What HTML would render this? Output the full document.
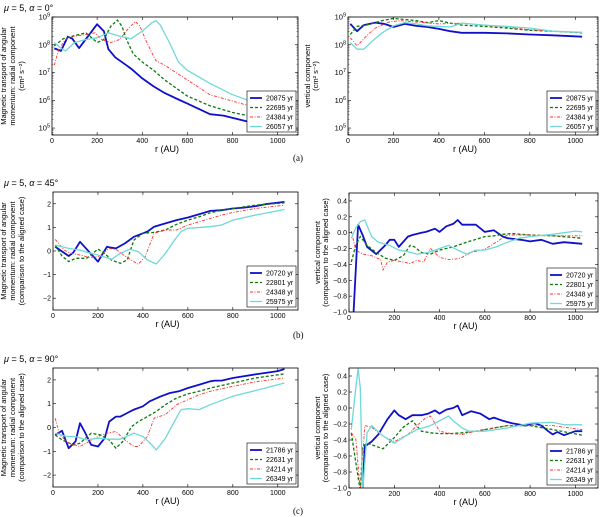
<!DOCTYPE html>
<html><head><meta charset="utf-8"><style>
html,body{margin:0;padding:0;background:#fff;}
svg{display:block;font-family:"Liberation Sans",sans-serif;}
</style></head><body>
<svg id="fig" width="600" height="517" viewBox="0 0 600 517" xmlns="http://www.w3.org/2000/svg">
<text x="4" y="11" font-size="9"><tspan font-style="italic">μ</tspan> = 5, <tspan font-style="italic">α</tspan> = 0°</text>
<text x="4" y="186" font-size="9"><tspan font-style="italic">μ</tspan> = 5, <tspan font-style="italic">α</tspan> = 45°</text>
<text x="4" y="362" font-size="9"><tspan font-style="italic">μ</tspan> = 5, <tspan font-style="italic">α</tspan> = 90°</text>
<text x="293" y="161" font-size="9" font-family="Liberation Serif">(a)</text>
<text x="293" y="338" font-size="9" font-family="Liberation Serif">(b)</text>
<text x="293" y="514" font-size="9" font-family="Liberation Serif">(c)</text>
</svg>
<script>
// ---- Data (r in AU, values; panel a in log10) ----
const aL_legend = ["20875 yr","22695 yr","24384 yr","26057 yr"];
const aL_blue_r = [10,40,70,90,120,160,200,230,250,280,350,400,450,500,560,600,700,760,850,1000,1030];
const aL_blue_v = [7.87,7.78,8.29,8.22,7.88,8.31,8.74,8.49,7.84,7.55,7.14,6.79,6.5,6.26,6.03,5.88,5.5,5.45,5.27,4.98,4.89];
const aL_green_r = [10,50,100,150,200,230,260,290,310,330,360,400,450,500,600,700,800,900,1030];
const aL_green_v = [7.96,8.22,8.33,8.43,8.08,8.19,8.66,8.89,8.66,8.19,7.67,7.38,7.08,6.73,6.15,5.8,5.56,5.39,5.09];
const aL_red_r = [10,30,60,100,150,190,220,260,300,340,370,390,420,460,500,600,700,800,900,1030];
const aL_red_v = [7.26,7.84,8.19,8.31,8.37,8.43,8.19,8.08,8.19,8.6,8.84,8.66,8.08,7.43,7.26,6.73,6.2,5.97,5.74,5.45];
const aL_cyan_r = [10,40,60,100,150,200,250,300,350,400,440,460,480,520,560,600,700,800,900,1030];
const aL_cyan_v = [8.08,7.87,7.78,8.08,8.19,8.25,8.43,8.31,8.22,8.49,8.78,8.87,8.71,8.08,7.38,7.08,6.61,6.2,5.91,5.56];

const aR_blue_r = [10,40,70,120,160,200,250,300,350,400,450,500,600,700,800,900,1030];
const aR_blue_v = [8.75,8.49,8.71,8.8,8.75,8.64,8.75,8.68,8.64,8.57,8.49,8.43,8.43,8.41,8.37,8.34,8.29];
const aR_green_r = [10,40,80,150,200,250,300,350,400,450,500,600,700,800,900,1030];
const aR_green_v = [8.37,8.66,8.71,8.87,8.95,8.91,8.87,8.8,8.87,8.78,8.71,8.66,8.6,8.52,8.49,8.43];
const aR_red_r = [10,40,80,120,180,230,300,400,500,600,700,800,900,1030];
const aR_red_v = [8.25,7.96,8.31,8.6,8.82,8.87,8.82,8.75,8.78,8.71,8.64,8.54,8.49,8.43];
const aR_cyan_r = [10,40,70,100,150,200,250,300,350,400,450,500,600,700,800,900,1030];
const aR_cyan_v = [8.08,7.84,7.84,8.08,8.43,8.68,8.8,8.75,8.68,8.66,8.64,8.78,8.71,8.66,8.6,8.49,8.45];

const bL_legend = ["20720 yr","22801 yr","24348 yr","25975 yr"];
const bL_blue_r = [10,70,90,120,160,200,240,260,280,320,360,400,420,450,500,550,600,650,700,750,800,850,900,950,1030];
const bL_blue_v = [0.18,-0.21,-0.07,0.39,-0.03,-0.45,0.18,0.14,0.11,0.32,0.6,0.75,0.82,1.03,1.17,1.31,1.42,1.56,1.7,1.73,1.8,1.84,1.9,1.99,2.08];
const bL_green_r = [10,40,70,100,150,200,230,260,300,330,360,400,450,500,550,600,650,700,750,800,900,1030];
const bL_green_v = [0.25,-0.21,-0.45,-0.31,-0.31,0.08,-0.1,-0.38,-0.52,-0.38,0.46,0.75,0.79,0.89,1.13,1.31,1.45,1.62,1.73,1.8,1.94,2.04];
const bL_red_r = [10,50,80,120,160,200,250,280,320,360,380,410,450,500,550,600,650,700,750,800,900,1030];
const bL_red_v = [0.49,0.04,-0.1,-0.17,-0.27,-0.24,0.11,0.07,-0.21,-0.45,-0.56,-0.24,0.75,0.89,0.89,1.1,1.24,1.38,1.52,1.63,1.8,1.94];
const bL_cyan_r = [10,70,120,160,200,260,300,340,380,420,460,500,540,570,600,700,750,800,900,1030];
const bL_cyan_v = [0.25,0.11,0.04,-0.07,-0.17,-0.35,-0.1,0.07,-0.03,-0.38,-0.55,-0.1,0.46,0.82,0.96,1.03,1.1,1.31,1.52,1.76];

const bR_blue_r = [20,40,60,80,120,160,180,200,220,260,280,320,340,380,400,430,460,480,500,560,600,640,680,700,760,800,850,900,950,1030];
const bR_blue_v = [-1.02,0.1,-0.03,-0.18,-0.27,-0.16,-0.09,-0.09,-0.18,-0.05,-0.03,0,0.01,0.05,0.01,0.08,0.11,0.16,0.1,0.1,0.01,0.03,-0.05,-0.07,-0.09,-0.11,-0.09,-0.14,-0.12,-0.14];
const bR_green_r = [10,30,50,80,120,160,200,240,270,290,320,360,400,460,520,600,640,680,720,760,800,900,1030];
const bR_green_v = [-0.37,-0.16,-0.05,-0.16,-0.25,-0.32,-0.35,-0.29,-0.16,-0.18,-0.25,-0.27,-0.22,-0.18,-0.12,-0.05,-0.04,-0.02,-0.01,-0.02,-0.03,-0.04,-0.07];
const bR_red_r = [10,30,60,100,140,150,170,200,240,270,300,330,350,360,400,440,480,500,540,600,650,700,800,900,1030];
const bR_red_v = [0.02,-0.22,-0.27,-0.29,-0.34,-0.47,-0.37,-0.35,-0.37,-0.39,-0.35,-0.37,-0.25,-0.2,-0.31,-0.34,-0.33,-0.31,-0.25,-0.21,-0.12,-0.03,-0.03,-0.04,-0.04];
const bR_cyan_r = [10,30,50,70,100,130,180,220,260,300,350,400,440,480,520,560,600,650,700,750,800,900,1000,1030];
const bR_cyan_v = [-0.07,0.06,0.14,0.16,-0.05,-0.12,-0.16,-0.22,-0.24,-0.27,-0.25,-0.2,-0.16,-0.22,-0.27,-0.22,-0.22,-0.18,-0.12,-0.07,-0.05,-0.02,0.02,0.01];

const cL_legend = ["21786 yr","22631 yr","24214 yr","26349 yr"];
const cL_blue_r = [10,40,70,100,120,140,170,200,230,250,280,300,330,360,400,430,480,520,560,600,650,700,720,750,800,900,1000,1030];
const cL_blue_v = [-0.31,-0.14,-0.87,-0.59,0.18,-0.17,-0.73,-0.8,-0.45,0.25,0.46,0.46,0.61,0.75,0.89,1.1,1.31,1.45,1.52,1.66,1.8,1.94,1.97,1.97,2.08,2.23,2.37,2.46];
const cL_green_r = [10,40,90,120,170,210,250,280,310,350,380,420,460,500,550,600,650,700,800,900,1030];
const cL_green_v = [-0.31,-0.52,-0.73,-0.66,-0.24,-0.31,-0.52,-0.87,-0.59,0.04,0.25,0.46,0.68,0.96,1.24,1.41,1.52,1.66,1.87,2.08,2.25];
const cL_red_r = [10,30,70,120,160,200,240,280,320,360,380,420,450,500,550,600,650,700,800,900,1030];
const cL_red_v = [0.39,-0.31,-0.66,-0.8,-0.59,-0.38,-0.24,-0.17,-0.52,-0.8,-0.8,-0.38,0.39,0.54,0.96,1.17,1.38,1.52,1.73,1.92,2.08];
const cL_cyan_r = [10,60,100,150,200,250,300,360,400,440,460,500,540,570,600,650,700,800,900,1030];
const cL_cyan_v = [-0.24,-0.38,-0.38,-0.52,-0.45,-0.49,-0.49,-0.24,-0.38,-0.73,-0.94,-0.45,0.25,0.75,0.79,0.75,0.96,1.31,1.55,1.87];

const cR_blue_r = [60,70,100,130,170,200,220,250,280,320,350,380,400,430,460,480,500,540,580,620,640,680,720,780,800,820,850,880,900,920,950,1000,1030];
const cR_blue_v = [-1.04,-0.48,-0.42,-0.33,-0.14,-0.03,-0.09,-0.14,-0.09,-0.09,-0.07,-0.03,-0.07,-0.02,0,0.03,-0.09,-0.04,-0.07,-0.14,-0.12,-0.16,-0.19,-0.22,-0.2,-0.19,-0.22,-0.29,-0.33,-0.3,-0.34,-0.29,-0.29];
const cR_green_r = [10,30,50,60,80,120,150,200,240,280,320,360,400,450,500,560,600,700,750,800,900,1030];
const cR_green_v = [-0.31,-0.68,-1.04,-0.48,-0.44,-0.48,-0.51,-0.37,-0.24,-0.16,-0.29,-0.31,-0.32,-0.32,-0.31,-0.29,-0.27,-0.22,-0.22,-0.22,-0.27,-0.34];
const cR_red_r = [10,30,50,70,100,150,200,260,300,340,360,400,450,500,560,600,700,800,900,1000,1030];
const cR_red_v = [-0.31,-0.39,-1.04,-0.22,-0.24,-0.35,-0.42,-0.33,-0.22,-0.12,-0.1,-0.29,-0.32,-0.33,-0.29,-0.27,-0.22,-0.22,-0.22,-0.26,-0.27];
const cR_cyan_r = [10,30,40,50,60,80,100,150,200,250,300,360,400,440,460,500,530,600,700,800,900,950,1030];
const cR_cyan_v = [-0.27,0.25,0.49,0.25,-1.04,-0.31,-0.22,-0.35,-0.44,-0.35,-0.27,-0.22,-0.16,-0.1,-0.16,-0.25,-0.29,-0.29,-0.25,-0.19,-0.18,-0.21,-0.21];

const logTicks = [5,6,7,8,9];
const radTicks = [-2,-1,0,1,2];
const vertTicks = [-1.0,-0.8,-0.6,-0.4,-0.2,0.0,0.2,0.4];
const xTicks = [0,200,400,600,800,1000];

const NS = "http://www.w3.org/2000/svg";
const svg = document.getElementById('fig');
function mk(tag, attrs, parent){ const e=document.createElementNS(NS,tag); for(const k in attrs) e.setAttribute(k,attrs[k]); (parent||svg).appendChild(e); return e; }

const styles = [
  {stroke:"#1010c8", w:1.8, dash:""},
  {stroke:"#0a7a0a", w:1.3, dash:"3,2"},
  {stroke:"#ff3030", w:0.9, dash:"3,1.5,1,1.5"},
  {stroke:"#70d8d8", w:1.3, dash:""}
];

const panels = [
  {id:"a-left", x0:52,x1:298,y0:17,y1:135,xmax:1090,ymin:4.75,ymax:9,log:true,ticks:logTicks,legend:aL_legend,
   series:[[aL_blue_r,aL_blue_v],[aL_green_r,aL_green_v],[aL_red_r,aL_red_v],[aL_cyan_r,aL_cyan_v]],
   ylab:["Magnetic transport of angular","momentum: radial component","(cm² s⁻²)"]},
  {id:"a-right", x0:348,x1:598,y0:17,y1:135,xmax:1100,ymin:4.75,ymax:9,log:true,ticks:logTicks,legend:aL_legend,labOff:-38,
   series:[[aR_blue_r,aR_blue_v],[aR_green_r,aR_green_v],[aR_red_r,aR_red_v],[aR_cyan_r,aR_cyan_v]],
   ylab:["vertical component","(cm² s⁻²)"]},
  {id:"b-left", x0:53,x1:298,y0:192,y1:310,xmax:1090,ymin:-2.5,ymax:2.5,ticks:radTicks,legend:bL_legend,
   series:[[bL_blue_r,bL_blue_v],[bL_green_r,bL_green_v],[bL_red_r,bL_red_v],[bL_cyan_r,bL_cyan_v]],
   ylab:["Magnetic transport of angular","momentum: radial component","(comparison to the aligned case)"]},
  {id:"b-right", x0:349,x1:598,y0:193,y1:312,xmax:1100,ymin:-1,ymax:0.5,ticks:vertTicks,legend:bL_legend,dec:1,labOff:-29,
   series:[[bR_blue_r,bR_blue_v],[bR_green_r,bR_green_v],[bR_red_r,bR_red_v],[bR_cyan_r,bR_cyan_v]],
   ylab:["vertical component","(comparison to the aligned case)"]},
  {id:"c-left", x0:53,x1:298,y0:368,y1:487,xmax:1090,ymin:-2.5,ymax:2.5,ticks:radTicks,legend:cL_legend,
   series:[[cL_blue_r,cL_blue_v],[cL_green_r,cL_green_v],[cL_red_r,cL_red_v],[cL_cyan_r,cL_cyan_v]],
   ylab:["Magnetic transport of angular","momentum: radial component","(comparison to the aligned case)"]},
  {id:"c-right", x0:349,x1:598,y0:368,y1:488,xmax:1100,ymin:-1,ymax:0.5,ticks:vertTicks,legend:cL_legend,dec:1,labOff:-29,
   series:[[cR_blue_r,cR_blue_v],[cR_green_r,cR_green_v],[cR_red_r,cR_red_v],[cR_cyan_r,cR_cyan_v]],
   ylab:["vertical component","(comparison to the aligned case)"]}
];

panels.forEach((p,pi)=>{
  const xs = r => p.x0 + r/p.xmax*(p.x1-p.x0);
  const ys = v => p.y1 - (v-p.ymin)/(p.ymax-p.ymin)*(p.y1-p.y0);
  const g = mk('g',{});
  
  
  const cid = 'clip'+pi;
  const cp = mk('clipPath',{id:cid},g);
  mk('rect',{x:p.x0,y:p.y0,width:p.x1-p.x0,height:p.y1-p.y0},cp);
  p.series.forEach((s,si)=>{
    const st = styles[si];
    const d = s[0].map((r,i)=>(i?'L':'M')+xs(r).toFixed(1)+','+ys(s[1][i]).toFixed(1)).join(' ');
    const path = mk('path',{d:d,fill:'none',stroke:st.stroke,'stroke-width':st.w,'stroke-dasharray':st.dash,'clip-path':'url(#'+cid+')','stroke-linejoin':'round'},g);
    
    
  });
  const fr = mk('rect',{x:p.x0,y:p.y0,width:p.x1-p.x0,height:p.y1-p.y0,fill:'none',stroke:'#000','stroke-width':0.8},g);
  
  
  xTicks.forEach(t=>{
    const x = xs(t);
    mk('line',{x1:x,x2:x,y1:p.y1,y2:p.y1-3,stroke:'#000','stroke-width':0.6},g);
    mk('line',{x1:x,x2:x,y1:p.y0,y2:p.y0+3,stroke:'#000','stroke-width':0.6},g);
    const tx = mk('text',{x:x,y:p.y1+8,'font-size':7,'text-anchor':'middle'},g);
    tx.textContent = t;
    
    
  });
  const xl = mk('text',{x:(p.x0+p.x1)/2-8,y:p.y1+17,'font-size':9,'text-anchor':'middle'},g);
  xl.textContent = 'r (AU)';
  
  
  p.ticks.forEach(t=>{
    const y = ys(t);
    mk('line',{x1:p.x0,x2:p.x0+3,y1:y,y2:y,stroke:'#000','stroke-width':0.6},g);
    mk('line',{x1:p.x1,x2:p.x1-3,y1:y,y2:y,stroke:'#000','stroke-width':0.6},g);
    const tx = mk('text',{x:p.x0-2,y:y+2.5,'font-size':p.log?7.5:7,'text-anchor':'end'},g);
    if(p.log){ tx.textContent='10'; const sp=mk('tspan',{dy:-3,'font-size':5.5},tx); sp.textContent=String(t); }
    else tx.textContent = p.dec ? (t<0?'−':'')+Math.abs(t).toFixed(1) : (t<0?'−':'')+Math.abs(t);
    
    
  });
  if(p.log){
    for(let dcd=4; dcd<9; dcd++) for(let m=2;m<10;m++){
      const v = dcd+Math.log10(m); if(v<p.ymin) continue;
      const y = ys(v);
      mk('line',{x1:p.x0,x2:p.x0+1.5,y1:y,y2:y,stroke:'#000','stroke-width':0.4},g);
      mk('line',{x1:p.x1,x2:p.x1-1.5,y1:y,y2:y,stroke:'#000','stroke-width':0.4},g);
    }
  }
  const left = p.x0<100;
  const cy = (p.y0+p.y1)/2;
  p.ylab.forEach((line,li)=>{
    const x = left ? 6+li*9 : p.x0+p.labOff+li*8;
    const tx = mk('text',{x:x,y:cy,'font-size':7.5,'text-anchor':'middle',transform:'rotate(-90 '+x+' '+cy+')'},g);
    tx.textContent = line;
    
    
  });
  const lx = p.x1-51, ly = p.y1-44;
  const lg = mk('g',{},g);
  
  
  mk('rect',{x:lx,y:ly,width:49,height:41,fill:'#fff',stroke:'#000','stroke-width':0.6},lg);
  p.legend.forEach((lab,i)=>{
    const st = styles[i]; const y = ly+7+i*9.5;
    mk('line',{x1:lx+3,x2:lx+15,y1:y,y2:y,stroke:st.stroke,'stroke-width':st.w,'stroke-dasharray':st.dash},lg);
    const tx = mk('text',{x:lx+19,y:y+2.5,'font-size':7},lg);
    tx.textContent = lab;
    
    
  });
});
</script>
</body></html>
